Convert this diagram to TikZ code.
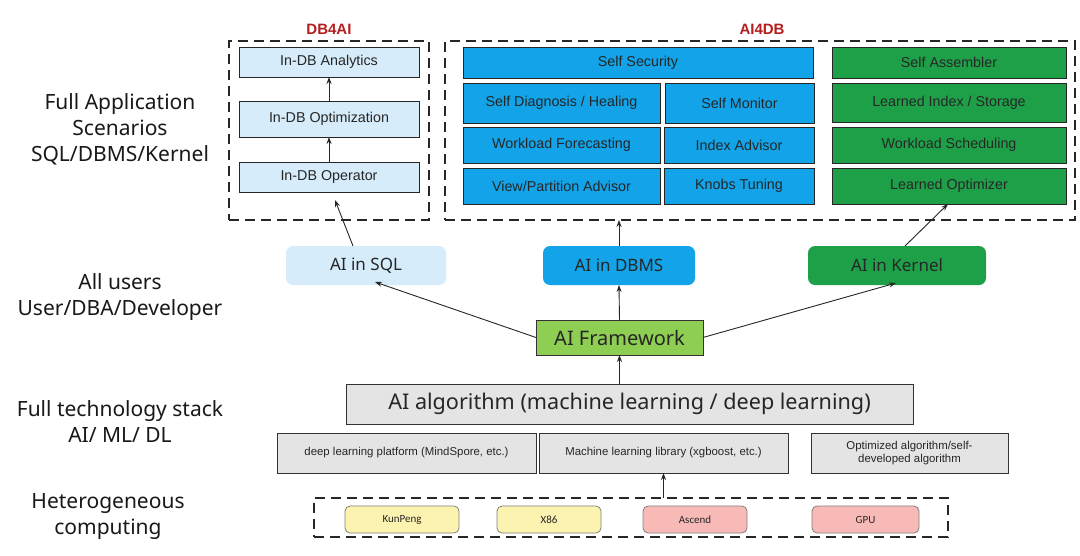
\documentclass[tikz,border=0pt]{standalone}
\usepackage{fontspec}
\setmainfont{Liberation Sans}
\newfontfamily\yh{Noto Sans}
\newfontfamily\chipfont{Carlito}
\usetikzlibrary{arrows.meta}
\definecolor{lblue}{RGB}{214,236,250}
\definecolor{mblue}{RGB}{18,163,232}
\definecolor{mgreen}{RGB}{30,160,72}
\definecolor{lime}{RGB}{142,206,82}
\definecolor{lgray}{RGB}{228,228,228}
\definecolor{cyell}{RGB}{253,243,176}
\definecolor{cpink}{RGB}{248,186,182}
\definecolor{dred}{RGB}{180,30,30}
\tikzset{
  every node/.style={inner sep=0pt,outer sep=0pt},
  sbox/.style={draw=black!85,line width=0.9pt,font=\fontsize{14.3}{16}\selectfont,text=black!85},
  dbai/.style={sbox,fill=lblue},
  ablue/.style={sbox,fill=mblue},
  agreen/.style={sbox,fill=mgreen},
  grp/.style={draw=black!85,line width=2.2pt,dash pattern=on 10pt off 6pt},
  mid/.style={rounded corners=7pt,font=\yh\fontsize{17}{19}\selectfont,text=black!85},
  gbox/.style={draw=black!80,line width=0.9pt,fill=lgray,text=black!85},
  chip/.style={draw=black!50,line width=0.8pt,rounded corners=5pt,font=\chipfont\fontsize{11}{12}\selectfont,text=black!85},
  side/.style={font=\yh\fontsize{21}{26}\selectfont,align=center,text=black!90},
  arr/.style={-{Stealth[length=7pt,width=5pt]},line width=0.9pt,black!85},
  ttl/.style={font=\bfseries\fontsize{15}{17}\selectfont,text=dred}
}
\begin{document}
\begin{tikzpicture}[x=1pt,y=-1pt]
\useasboundingbox[fill=white] (0,0) rectangle (1080,555);
% group boxes
\node[grp,minimum width=200pt,minimum height=179pt,anchor=north west] (db4ai) at (229,41) {};
\node[grp,minimum width=630pt,minimum height=179pt,anchor=north west] (ai4db) at (445,41) {};
\node[ttl] (t1) at (329,29) {DB4AI};
\node[ttl] (t2) at (762,29) {AI4DB};
% DB4AI boxes
\node[dbai,minimum width=180pt,minimum height=30pt,anchor=north west] (ana) at (239,47) {In-DB Analytics};
\node[dbai,minimum width=180pt,minimum height=36pt,anchor=north west] (opt) at (239,101) {In-DB Optimization};
\node[dbai,minimum width=180pt,minimum height=30pt,anchor=north west] (op) at (239,162) {In-DB Operator};
\draw[arr] (opt.north) -- (ana.south);
\draw[arr] (op.north) -- (opt.south);
% AI4DB blue
\node[ablue,minimum width=350pt,minimum height=31pt,anchor=north west] (sec) at (463,47) {Self Security};
\node[ablue,minimum width=197pt,minimum height=40pt,anchor=north west] (diag) at (463,83) {Self Diagnosis / Healing};
\node[ablue,minimum width=149pt,minimum height=40pt,anchor=north west] (mon) at (665,83) {Self Monitor};
\node[ablue,minimum width=197pt,minimum height=36pt,anchor=north west] (wf) at (463,127) {Workload Forecasting};
\node[ablue,minimum width=150pt,minimum height=36pt,anchor=north west] (idx) at (664,127) {Index Advisor};
\node[ablue,minimum width=197pt,minimum height=36pt,anchor=north west] (vp) at (463,168) {View/Partition Advisor};
\node[ablue,minimum width=150pt,minimum height=36pt,anchor=north west] (knob) at (664,168) {Knobs Tuning};
% AI4DB green
\node[agreen,minimum width=234pt,minimum height=31pt,anchor=north west] (asm) at (832,47) {Self Assembler};
\node[agreen,minimum width=234pt,minimum height=39pt,anchor=north west] (lidx) at (832,83) {Learned Index / Storage};
\node[agreen,minimum width=234pt,minimum height=36pt,anchor=north west] (ws) at (832,127) {Workload Scheduling};
\node[agreen,minimum width=234pt,minimum height=36pt,anchor=north west] (lopt) at (832,168) {Learned Optimizer};
% middle row
\node[mid,fill=lblue,minimum width=160pt,minimum height=39pt,anchor=north west] (sql) at (286,246) {AI in SQL};
\node[mid,fill=mblue,minimum width=152pt,minimum height=39pt,anchor=north west] (dbms) at (543,246) {AI in DBMS};
\node[mid,fill=mgreen,minimum width=178pt,minimum height=39pt,anchor=north west] (kern) at (808,246) {AI in Kernel};
\node[draw=black!80,line width=0.9pt,fill=lime,font=\yh\fontsize{20}{22}\selectfont,text=black!85,minimum width=167pt,minimum height=35pt,anchor=north west] (fw) at (536,320) {AI Framework};
\node[gbox,font=\yh\fontsize{21.6}{24}\selectfont,minimum width=567pt,minimum height=40pt,anchor=north west] (alg) at (346,384) {AI algorithm (machine learning / deep learning)};
% arrows to top
\coordinate (sqltgt) at (335,200);
\draw[arr] (sql.north) ++(-13,0) -- (sqltgt);
\draw[arr] (dbms.north) -- (dbms.north |- ai4db.south);
\coordinate (kt) at (948,204);
\draw[arr] (kern.north) ++(8,0) -- (kt);
% arrows framework
\coordinate (sqlb) at (375,282);
\coordinate (kernb) at (896,283);
\draw[arr] (fw.west) -- (sqlb);
\draw[arr] (fw.east) -- (kernb);
\draw[arr] (fw.north) -- (dbms.south);
\draw[arr] (alg.north -| fw.north) -- (fw.south);
% bottom row
\node[gbox,font=\fontsize{11.4}{13.5}\selectfont,minimum width=259pt,minimum height=40pt,anchor=north west] (dlp) at (277,433) {deep learning platform (MindSpore, etc.)};
\node[gbox,font=\fontsize{11.4}{13.5}\selectfont,minimum width=249pt,minimum height=40pt,anchor=north west] (mll) at (539,433) {Machine learning library (xgboost, etc.)};
\node[gbox,font=\fontsize{11.4}{13.5}\selectfont,align=center,minimum width=197pt,minimum height=40pt,anchor=north west] (oa) at (811,433) {Optimized algorithm/self-\\developed algorithm};
% heterogeneous
\node[grp,minimum width=634pt,minimum height=39pt,anchor=north west] (het) at (314,498) {};
\draw[arr] (het.north -| mll.south) -- (mll.south);
\node[chip,fill=cyell,minimum width=114pt,minimum height=27pt,anchor=north west] (kp) at (345,506) {KunPeng};
\node[chip,fill=cyell,minimum width=104pt,minimum height=27pt,anchor=north west] (x86) at (497,506) {X86};
\node[chip,fill=cpink,minimum width=104pt,minimum height=27pt,anchor=north west] (asc) at (643,506) {Ascend};
\node[chip,fill=cpink,minimum width=107pt,minimum height=27pt,anchor=north west] (gpu) at (812,506) {GPU};
% side labels
\node[side] (l1) at (120,129) {Full Application\\Scenarios\\SQL/DBMS/Kernel};
\node[side] (l2) at (120,297) {All users\\User/DBA/Developer};
\node[side] (l3) at (120,422) {Full technology stack\\AI/ ML/ DL};
\node[side] (l4) at (108,517) {Heterogeneous\\computing};
\end{tikzpicture}
\end{document}
